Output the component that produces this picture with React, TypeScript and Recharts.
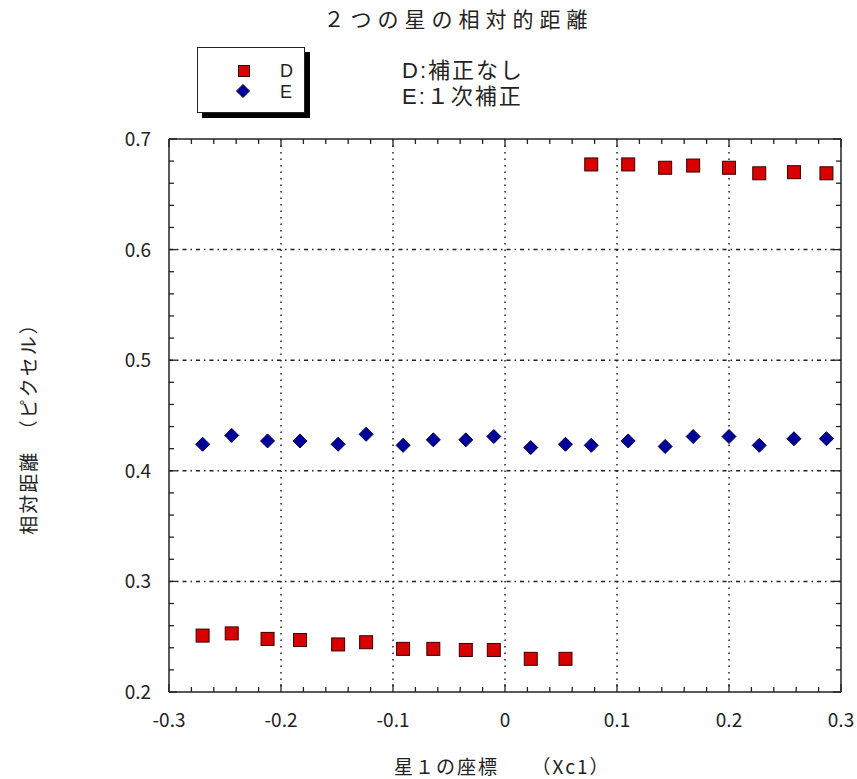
import { ScatterChart, Scatter, XAxis, YAxis, CartesianGrid, Legend } from "recharts";

// x positions of the star (Xc1)
const xc1 = [-0.27, -0.244, -0.212, -0.183, -0.149, -0.124, -0.091, -0.064, -0.035, -0.01, 0.023, 0.054, 0.077, 0.11, 0.143, 0.168, 0.2, 0.227, 0.258, 0.287];
// D: no correction
const dValues = [0.251, 0.253, 0.248, 0.247, 0.243, 0.245, 0.239, 0.239, 0.238, 0.238, 0.23, 0.23, 0.677, 0.677, 0.674, 0.676, 0.674, 0.669, 0.67, 0.669];
// E: first-order correction
const eValues = [0.424, 0.432, 0.427, 0.427, 0.424, 0.433, 0.423, 0.428, 0.428, 0.431, 0.421, 0.424, 0.423, 0.427, 0.422, 0.431, 0.431, 0.423, 0.429, 0.429];

const xMajor = [-0.3, -0.2, -0.1, 0, 0.1, 0.2, 0.3];
const yMajor = [0.2, 0.3, 0.4, 0.5, 0.6, 0.7];
const xTicks = Array.from({ length: 31 }, (_, i) => Math.round((-0.3 + i * 0.02) * 100) / 100);
const yTicks = Array.from({ length: 26 }, (_, i) => Math.round((0.2 + i * 0.02) * 100) / 100);

const dData = xc1.map((x, i) => ({ x, y: dValues[i] }));
const eData = xc1.map((x, i) => ({ x, y: eValues[i] }));

const FONT = "'Noto Sans CJK JP', 'DejaVu Sans', sans-serif";
const FONT_MIX = "'Liberation Sans', 'Noto Sans CJK JP', sans-serif";
const RED = "#d80000";
const BLUE = "#00009a";
const isMajor = (v: number, majors: number[]) => majors.some((m) => Math.abs(m - v) < 1e-6);

const Square = (props: any) => {
  const { cx, cy } = props;
  return <rect x={cx - 6.5} y={cy - 6.5} width={13} height={13} fill={RED} stroke="#3a0000" strokeWidth={1} />;
};

const Diamond = (props: any) => {
  const { cx, cy } = props;
  return (
    <path d={`M${cx},${cy - 7} L${cx + 7},${cy} L${cx},${cy + 7} L${cx - 7},${cy} Z`} fill={BLUE} stroke="#000040" strokeWidth={1} />
  );
};

const BottomTick = (props: any) => {
  const { x, y, payload } = props;
  const major = isMajor(payload.value, xMajor);
  return (
    <g>
      <line x1={x} x2={x} y1={y} y2={y - (major ? 8 : 5)} stroke="#222" strokeWidth={1.3} />
      {major && (
        <text x={x} y={y + 35} textAnchor="middle" fontSize={19} fontFamily={FONT} fill="#222">
          {payload.value}
        </text>
      )}
    </g>
  );
};

const TopTick = (props: any) => {
  const { x, y, payload } = props;
  const major = isMajor(payload.value, xMajor);
  return <line x1={x} x2={x} y1={y} y2={y + (major ? 8 : 5)} stroke="#222" strokeWidth={1.3} />;
};

const LeftTick = (props: any) => {
  const { x, y, payload } = props;
  const major = isMajor(payload.value, yMajor);
  return (
    <g>
      <line x1={x} x2={x + (major ? 8 : 5)} y1={y} y2={y} stroke="#222" strokeWidth={1.3} />
      {major && (
        <text x={x - 18} y={y + 7} textAnchor="end" fontSize={19} fontFamily={FONT} fill="#222">
          {payload.value.toFixed(1)}
        </text>
      )}
    </g>
  );
};

const RightTick = (props: any) => {
  const { x, y, payload } = props;
  const major = isMajor(payload.value, yMajor);
  return <line x1={x} x2={x - (major ? 8 : 5)} y1={y} y2={y} stroke="#222" strokeWidth={1.3} />;
};

const LegendBox = () => (
  <div style={{ position: "relative", width: 108, height: 66 }}>
    <div style={{ position: "absolute", left: 5, top: 5, width: 108, height: 66, background: "#000" }} />
    <div
      style={{
        position: "absolute",
        left: 0,
        top: 0,
        width: 106,
        height: 64,
        background: "#fff",
        border: "1px solid #222",
        fontFamily: FONT_MIX,
        fontSize: 18,
        color: "#222",
      }}
    >
      <div style={{ position: "absolute", left: 40, top: 17, width: 12, height: 12, background: RED, border: "1px solid #3a0000", boxSizing: "border-box" }} />
      <div style={{ position: "absolute", left: 82, top: 13, lineHeight: "20px" }}>D</div>
      <svg style={{ position: "absolute", left: 38, top: 36 }} width={14} height={14}>
        <path d="M7,0.5 L13.5,7 L7,13.5 L0.5,7 Z" fill={BLUE} stroke="#000040" />
      </svg>
      <div style={{ position: "absolute", left: 82, top: 34, lineHeight: "20px" }}>E</div>
    </div>
  </div>
);

export default function App() {
  return (
    <div style={{ position: "absolute", left: 0, top: 0, width: 857, height: 779, background: "#fff" }}>
      <ScatterChart width={857} height={779} margin={{ top: 129, right: 6, bottom: 47, left: 109 }}>
        <CartesianGrid horizontal={false} verticalValues={[-0.2, -0.1, 0, 0.1, 0.2]} stroke="#222" strokeWidth={1.5} strokeDasharray="1.5 5" />
        <CartesianGrid vertical={false} horizontalValues={[0.3, 0.4, 0.5, 0.6]} stroke="#222" strokeWidth={1.5} strokeDasharray="4 4 1.5 4" />
        <XAxis
          type="number"
          dataKey="x"
          domain={[-0.3, 0.3]}
          ticks={xTicks}
          interval={0}
          tickSize={0}
          tickMargin={0}
          tickLine={false}
          tick={<BottomTick />}
          height={40}
          axisLine={{ stroke: "#222", strokeWidth: 1.5 }}
          allowDataOverflow
        />
        <XAxis
          xAxisId="top"
          orientation="top"
          type="number"
          dataKey="x"
          domain={[-0.3, 0.3]}
          ticks={xTicks}
          interval={0}
          tickSize={0}
          tickMargin={0}
          tickLine={false}
          tick={<TopTick />}
          height={10}
          axisLine={{ stroke: "#222", strokeWidth: 1.5 }}
          allowDataOverflow
        />
        <YAxis
          type="number"
          dataKey="y"
          domain={[0.2, 0.7]}
          ticks={yTicks}
          interval={0}
          tickSize={0}
          tickMargin={0}
          tickLine={false}
          tick={<LeftTick />}
          width={60}
          axisLine={{ stroke: "#222", strokeWidth: 1.5 }}
          allowDataOverflow
        />
        <YAxis
          yAxisId="right"
          orientation="right"
          type="number"
          dataKey="y"
          domain={[0.2, 0.7]}
          ticks={yTicks}
          interval={0}
          tickSize={0}
          tickMargin={0}
          tickLine={false}
          tick={<RightTick />}
          width={10}
          axisLine={{ stroke: "#222", strokeWidth: 1.5 }}
          allowDataOverflow
        />
        <Legend
          content={<LegendBox />}
          layout="vertical"
          align="center"
          verticalAlign="middle"
          wrapperStyle={{ position: "absolute", left: 197, top: 47, width: 115, height: 72 }}
        />
        <Scatter name="D" data={dData} shape={<Square />} isAnimationActive={false} />
        <Scatter name="E" data={eData} shape={<Diamond />} isAnimationActive={false} />
      </ScatterChart>

      <div style={{ position: "absolute", left: 0, width: 857, top: 4, textAlign: "center", paddingLeft: 60, boxSizing: "border-box", fontFamily: FONT, fontSize: 21, letterSpacing: 6, color: "#222", lineHeight: "28px" }}>
        ２つの星の相対的距離
      </div>
      <div style={{ position: "absolute", left: 402, top: 60, fontFamily: FONT_MIX, fontSize: 22, color: "#222", lineHeight: "22px", letterSpacing: 2, whiteSpace: "nowrap" }}>
        D:補正なし
      </div>
      <div style={{ position: "absolute", left: 402, top: 86, fontFamily: FONT_MIX, fontSize: 22, color: "#222", lineHeight: "22px", letterSpacing: 2, whiteSpace: "nowrap" }}>
        E:１次補正
      </div>
      <div
        style={{
          position: "absolute",
          left: 27,
          top: 424,
          transform: "translate(-50%, -50%) rotate(-90deg)",
          whiteSpace: "nowrap",
          fontFamily: FONT,
          fontSize: 19,
          letterSpacing: 2,
          color: "#222",
        }}
      >
        相対距離　（ピクセル）
      </div>
      <div style={{ position: "absolute", left: 394, top: 752, whiteSpace: "nowrap", fontFamily: FONT, fontSize: 19, letterSpacing: 2, color: "#222" }}>
        星１の座標　　（Xc1）
      </div>
    </div>
  );
}
